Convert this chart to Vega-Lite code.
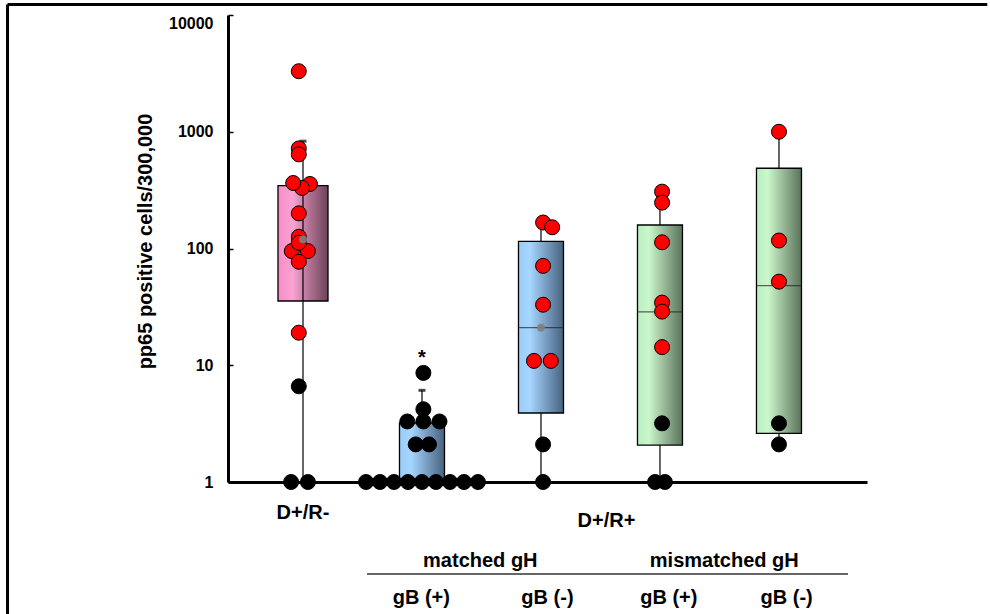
{
  "$schema": "https://vega.github.io/schema/vega-lite/v6.json",
  "width": 639,
  "height": 467,
  "autosize": {"type": "none"},
  "padding": {"left": 228, "top": 15, "right": 123, "bottom": 132},
  "background": "white",
  "config": {"view": {"stroke": null}, "font": "Liberation Sans"},
  "datasets": {
    "box": [
      {"group": "D+/R-", "q1": 35.5, "q3": 345, "lo": 1, "hi": 830, "mean": 120},
      {"group": "mB+", "q1": 1, "q3": 3.2, "lo": 1, "hi": 6.1},
      {"group": "mB-", "q1": 3.9, "q3": 115, "med": 21, "lo": 1, "hi": 150, "mean": 21},
      {"group": "mmB+", "q1": 2.07, "q3": 159, "med": 28.6, "lo": 1, "hi": 250},
      {"group": "mmB-", "q1": 2.61, "q3": 487, "med": 48, "lo": 2.1, "hi": 1000}
    ],
    "pts": [
      {"group": "D+/R-", "v": 3300, "jit": -0.3, "dot": "red"},
      {"group": "D+/R-", "v": 720, "jit": -0.3, "dot": "red"},
      {"group": "D+/R-", "v": 640, "jit": -0.3, "dot": "red"},
      {"group": "D+/R-", "v": 357, "jit": 0.5, "dot": "red"},
      {"group": "D+/R-", "v": 330, "jit": -0.07, "dot": "red"},
      {"group": "D+/R-", "v": 364, "jit": -0.7, "dot": "red"},
      {"group": "D+/R-", "v": 200, "jit": -0.3, "dot": "red"},
      {"group": "D+/R-", "v": 126, "jit": -0.3, "dot": "red"},
      {"group": "D+/R-", "v": 95, "jit": -0.8, "dot": "red"},
      {"group": "D+/R-", "v": 95, "jit": 0.35, "dot": "red"},
      {"group": "D+/R-", "v": 112, "jit": -0.3, "dot": "red"},
      {"group": "D+/R-", "v": 77, "jit": -0.3, "dot": "red"},
      {"group": "D+/R-", "v": 19, "jit": -0.3, "dot": "red"},
      {"group": "D+/R-", "v": 6.6, "jit": -0.3, "dot": "black"},
      {"group": "D+/R-", "v": 1, "jit": -0.85, "dot": "black"},
      {"group": "D+/R-", "v": 1, "jit": 0.35, "dot": "black"},
      {"group": "mB+", "v": 8.6, "jit": 0.1, "dot": "black"},
      {"group": "mB+", "v": 4.2, "jit": 0.1, "dot": "black"},
      {"group": "mB+", "v": 3.3, "jit": -1.05, "dot": "black"},
      {"group": "mB+", "v": 3.3, "jit": 0.1, "dot": "black"},
      {"group": "mB+", "v": 3.3, "jit": 1.25, "dot": "black"},
      {"group": "mB+", "v": 2.1, "jit": -0.45, "dot": "black"},
      {"group": "mB+", "v": 2.1, "jit": 0.5, "dot": "black"},
      {"group": "mB+", "v": 1, "jit": -4, "dot": "black"},
      {"group": "mB+", "v": 1, "jit": -3, "dot": "black"},
      {"group": "mB+", "v": 1, "jit": -2, "dot": "black"},
      {"group": "mB+", "v": 1, "jit": -1, "dot": "black"},
      {"group": "mB+", "v": 1, "jit": 0, "dot": "black"},
      {"group": "mB+", "v": 1, "jit": 1, "dot": "black"},
      {"group": "mB+", "v": 1, "jit": 2, "dot": "black"},
      {"group": "mB+", "v": 1, "jit": 3, "dot": "black"},
      {"group": "mB+", "v": 1, "jit": 4, "dot": "black"},
      {"group": "mB-", "v": 167, "jit": 0.15, "dot": "red"},
      {"group": "mB-", "v": 152, "jit": 0.8, "dot": "red"},
      {"group": "mB-", "v": 71, "jit": 0.15, "dot": "red"},
      {"group": "mB-", "v": 33, "jit": 0.15, "dot": "red"},
      {"group": "mB-", "v": 10.9, "jit": -0.5, "dot": "red"},
      {"group": "mB-", "v": 10.9, "jit": 0.7, "dot": "red"},
      {"group": "mB-", "v": 2.1, "jit": 0.15, "dot": "black"},
      {"group": "mB-", "v": 1, "jit": 0.15, "dot": "black"},
      {"group": "mmB+", "v": 307, "jit": 0.15, "dot": "red"},
      {"group": "mmB+", "v": 247, "jit": 0.15, "dot": "red"},
      {"group": "mmB+", "v": 113, "jit": 0.15, "dot": "red"},
      {"group": "mmB+", "v": 34.4, "jit": 0.15, "dot": "red"},
      {"group": "mmB+", "v": 28.8, "jit": 0.15, "dot": "red"},
      {"group": "mmB+", "v": 14.3, "jit": 0.15, "dot": "red"},
      {"group": "mmB+", "v": 3.18, "jit": 0.15, "dot": "black"},
      {"group": "mmB+", "v": 1, "jit": -0.35, "dot": "black"},
      {"group": "mmB+", "v": 1, "jit": 0.35, "dot": "black"},
      {"group": "mmB-", "v": 1000, "jit": 0, "dot": "red"},
      {"group": "mmB-", "v": 117, "jit": 0, "dot": "red"},
      {"group": "mmB-", "v": 52, "jit": 0, "dot": "red"},
      {"group": "mmB-", "v": 3.18, "jit": 0, "dot": "black"},
      {"group": "mmB-", "v": 2.1, "jit": 0, "dot": "black"}
    ],
    "star": [{"group": "mB+", "v": 10.3, "txt": "*"}],
    "notes": [
      {"pos": 3.55, "yv": 0.41, "txt": "D+/R+"},
      {"pos": 2.49, "yv": 0.187, "txt": "matched gH"},
      {"pos": 4.54, "yv": 0.187, "txt": "mismatched gH"}
    ],
    "hline": [{"pos": 1.538, "pos2": 5.58, "yv": 0.163, "yv2": 0.163}],
    "frame": [
      {"pos": -1.483, "pos2": 6.75, "yv": 12300, "yv2": 12300},
      {"pos": -1.483, "pos2": -1.483, "yv": 12300, "yv2": 0.04}
    ]
  },
  "layer": [
    {
      "layer": [
        {
          "data": {"name": "box"},
          "transform": [{"filter": "datum.group == 'D+/R-'"}],
          "mark": {"type": "bar", "width": 50, "stroke": "black", "strokeWidth": 1.3,
            "fill": {"gradient": "linear", "x1": 0, "x2": 1, "y1": 0, "y2": 0,
              "stops": [{"offset": 0, "color": "#F78CC4"}, {"offset": 0.3, "color": "#F9A3D3"}, {"offset": 0.6, "color": "#B77698"}, {"offset": 1, "color": "#6A4458"}]}},
          "encoding": {
            "x": {"field": "group", "type": "nominal", "title": null, "scale": {"type": "band", "domain": ["D+/R-", "mB+", "mB-", "mmB+", "mmB-"], "paddingInner": 0, "paddingOuter": 0.185, "align": 0.352},
              "axis": {"title": null, "orient": "bottom", "ticks": false, "domainColor": "black", "domainWidth": 3, "labelAngle": 0, "labelFont": "Liberation Sans", "labelFontSize": 20, "labelFontWeight": "bold", "labelColor": "black", "labelPadding": 20, "labelOverlap": false,
                "labelExpr": "datum.value == 'D+/R-' ? 'D+/R-' : ''"}},
            "y": {"field": "q1", "type": "quantitative", "scale": {"type": "log", "domain": [1, 10000], "nice": false},
              "axis": {"title": "pp65 positive cells/300,000", "values": [1, 10, 100, 1000, 10000], "format": "d", "grid": false, "domainColor": "black", "domainWidth": 3, "tickColor": "black", "tickWidth": 1.5, "tickSize": -5, "labelPadding": 20, "labelFont": "Liberation Sans", "labelFontSize": 16, "labelFontWeight": "bold", "labelColor": "black",
                "labelBaseline": {"condition": {"test": "datum.value == 10000", "value": "top"}, "value": "middle"},
                "titleFont": "Liberation Sans", "titleFontSize": 20, "titleFontWeight": "bold", "titleColor": "black", "titlePadding": 13, "titleY": 226}},
            "y2": {"field": "q3"}
          }
        },
        {
          "data": {"name": "box"},
          "mark": {"type": "rule", "color": "black", "strokeWidth": 1.2},
          "encoding": {
            "x": {"field": "group", "type": "nominal", "title": null, "scale": {"type": "band", "domain": ["D+/R-", "mB+", "mB-", "mmB+", "mmB-"], "paddingInner": 0, "paddingOuter": 0.185, "align": 0.352}},
            "y": {"field": "lo", "type": "quantitative", "scale": {"type": "log", "domain": [1, 10000], "nice": false}},
            "y2": {"field": "hi"}
          }
        },
        {
          "data": {"name": "box"},
          "transform": [{"filter": "datum.group == 'mB+' || datum.group == 'mB-'"}],
          "mark": {"type": "bar", "width": 45, "stroke": "black", "strokeWidth": 1.3,
            "fill": {"gradient": "linear", "x1": 0, "x2": 1, "y1": 0, "y2": 0,
              "stops": [{"offset": 0, "color": "#98CCF8"}, {"offset": 0.25, "color": "#A6D6FF"}, {"offset": 0.6, "color": "#7A9FC4"}, {"offset": 1, "color": "#46627E"}]}},
          "encoding": {
            "x": {"field": "group", "type": "nominal", "title": null, "scale": {"type": "band", "domain": ["D+/R-", "mB+", "mB-", "mmB+", "mmB-"], "paddingInner": 0, "paddingOuter": 0.185, "align": 0.352}},
            "y": {"field": "q1", "type": "quantitative", "scale": {"type": "log", "domain": [1, 10000], "nice": false}},
            "y2": {"field": "q3"}
          }
        },
        {
          "data": {"name": "box"},
          "transform": [{"filter": "datum.group == 'mmB+' || datum.group == 'mmB-'"}],
          "mark": {"type": "bar", "width": 45, "stroke": "black", "strokeWidth": 1.3,
            "fill": {"gradient": "linear", "x1": 0, "x2": 1, "y1": 0, "y2": 0,
              "stops": [{"offset": 0, "color": "#B9EDBF"}, {"offset": 0.25, "color": "#CBF8CB"}, {"offset": 0.6, "color": "#98B898"}, {"offset": 1, "color": "#5A745A"}]}},
          "encoding": {
            "x": {"field": "group", "type": "nominal", "title": null, "scale": {"type": "band", "domain": ["D+/R-", "mB+", "mB-", "mmB+", "mmB-"], "paddingInner": 0, "paddingOuter": 0.185, "align": 0.352}},
            "y": {"field": "q1", "type": "quantitative", "scale": {"type": "log", "domain": [1, 10000], "nice": false}},
            "y2": {"field": "q3"}
          }
        },
        {
          "data": {"name": "box"},
          "transform": [{"filter": "isValid(datum.med)"}],
          "mark": {"type": "tick", "orient": "horizontal", "size": 45, "thickness": 1.2, "color": "#222"},
          "encoding": {
            "x": {"field": "group", "type": "nominal", "title": null, "scale": {"type": "band", "domain": ["D+/R-", "mB+", "mB-", "mmB+", "mmB-"], "paddingInner": 0, "paddingOuter": 0.185, "align": 0.352}},
            "y": {"field": "med", "type": "quantitative", "scale": {"type": "log", "domain": [1, 10000], "nice": false}}
          }
        },
        {
          "data": {"name": "box"},
          "transform": [{"filter": "datum.group == 'D+/R-' || datum.group == 'mB+'"}],
          "mark": {"type": "tick", "orient": "horizontal", "size": 7, "thickness": 3, "color": "black"},
          "encoding": {
            "x": {"field": "group", "type": "nominal", "title": null, "scale": {"type": "band", "domain": ["D+/R-", "mB+", "mB-", "mmB+", "mmB-"], "paddingInner": 0, "paddingOuter": 0.185, "align": 0.352}},
            "y": {"field": "hi", "type": "quantitative", "scale": {"type": "log", "domain": [1, 10000], "nice": false}}
          }
        },
        {
          "data": {"name": "pts"},
          "mark": {"type": "point", "shape": "circle", "filled": true, "size": 225, "stroke": "black", "strokeWidth": 1, "opacity": 1},
          "encoding": {
            "x": {"field": "group", "type": "nominal", "title": null, "scale": {"type": "band", "domain": ["D+/R-", "mB+", "mB-", "mmB+", "mmB-"], "paddingInner": 0, "paddingOuter": 0.185, "align": 0.352}},
            "xOffset": {"field": "jit", "type": "quantitative", "scale": {"domain": [-4.25, 4.25], "nice": false, "zero": false}},
            "y": {"field": "v", "type": "quantitative", "scale": {"type": "log", "domain": [1, 10000], "nice": false}},
            "fill": {"field": "dot", "type": "nominal", "scale": {"domain": ["red", "black"], "range": ["#FF0000", "#000000"]}, "legend": null}
          }
        },
        {
          "data": {"name": "box"},
          "transform": [{"filter": "isValid(datum.mean)"}],
          "mark": {"type": "point", "shape": "circle", "filled": true, "size": 60, "color": "#7F7F7F", "opacity": 0.9},
          "encoding": {
            "x": {"field": "group", "type": "nominal", "title": null, "scale": {"type": "band", "domain": ["D+/R-", "mB+", "mB-", "mmB+", "mmB-"], "paddingInner": 0, "paddingOuter": 0.185, "align": 0.352}},
            "y": {"field": "mean", "type": "quantitative", "scale": {"type": "log", "domain": [1, 10000], "nice": false}}
          }
        },
        {
          "data": {"name": "star"},
          "mark": {"type": "text", "font": "Liberation Sans", "fontSize": 20, "fontWeight": "bold", "color": "black", "align": "center", "baseline": "alphabetic"},
          "encoding": {
            "x": {"field": "group", "type": "nominal", "title": null, "scale": {"type": "band", "domain": ["D+/R-", "mB+", "mB-", "mmB+", "mmB-"], "paddingInner": 0, "paddingOuter": 0.185, "align": 0.352}},
            "y": {"field": "v", "type": "quantitative", "scale": {"type": "log", "domain": [1, 10000], "nice": false}},
            "text": {"field": "txt"}
          }
        }
      ]
    },
    {
      "layer": [
        {
          "data": {"name": "notes"},
          "mark": {"type": "text", "font": "Liberation Sans", "fontSize": 20, "fontWeight": "bold", "color": "black", "align": "center", "baseline": "alphabetic"},
          "encoding": {
            "x": {"field": "pos", "type": "quantitative", "scale": {"domain": [0.3697, 5.7395], "nice": false, "zero": false},
              "axis": {"title": null, "orient": "bottom", "values": [1.99, 3.05, 4.07, 5.06], "domain": false, "ticks": false, "grid": false, "labelFlush": false, "labelOverlap": false, "labelAngle": 0, "labelFont": "Liberation Sans", "labelFontSize": 20, "labelFontWeight": "bold", "labelColor": "black", "labelPadding": 105,
                "labelExpr": "(datum.value < 2.5 || (datum.value > 3.5 && datum.value < 4.5)) ? 'gB (+)' : 'gB (-)'"}},
            "y": {"field": "yv", "type": "quantitative", "scale": {"type": "log", "domain": [1, 10000], "nice": false}},
            "text": {"field": "txt"}
          }
        },
        {
          "data": {"name": "hline"},
          "mark": {"type": "rule", "color": "#333333", "strokeWidth": 1.5},
          "encoding": {
            "x": {"field": "pos", "type": "quantitative", "scale": {"domain": [0.3697, 5.7395], "nice": false, "zero": false}},
            "x2": {"field": "pos2"},
            "y": {"field": "yv", "type": "quantitative", "scale": {"type": "log", "domain": [1, 10000], "nice": false}},
            "y2": {"field": "yv2"}
          }
        },
        {
          "data": {"name": "frame"},
          "mark": {"type": "rule", "color": "black", "strokeWidth": 3},
          "encoding": {
            "x": {"field": "pos", "type": "quantitative", "scale": {"domain": [0.3697, 5.7395], "nice": false, "zero": false}},
            "x2": {"field": "pos2"},
            "y": {"field": "yv", "type": "quantitative", "scale": {"type": "log", "domain": [1, 10000], "nice": false}},
            "y2": {"field": "yv2"}
          }
        }
      ]
    }
  ],
  "resolve": {"scale": {"x": "independent"}, "axis": {"x": "independent"}}
}
